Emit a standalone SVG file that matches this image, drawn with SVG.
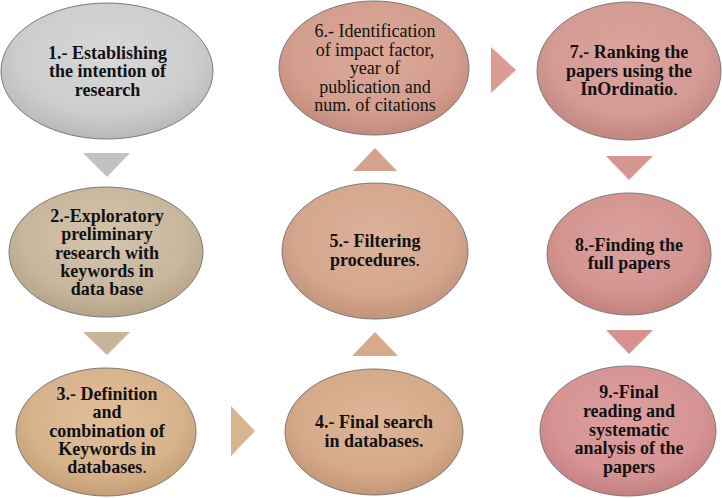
<svg xmlns="http://www.w3.org/2000/svg" width="722" height="498" viewBox="0 0 722 498">
<style>
.n{stroke:#7a7a7a;stroke-width:1}
.t{font-family:"Liberation Serif","Times New Roman",serif;font-size:18px;font-weight:bold;fill:#111;text-anchor:middle}
.r{font-weight:normal}
</style>
<defs>
<radialGradient id="g1" cx="50%" cy="40%" r="60%"><stop offset="0" stop-color="#d8d8d8"/><stop offset="0.7" stop-color="#cdcdcd"/><stop offset="1" stop-color="#b8b8b8"/></radialGradient>
<radialGradient id="g2" cx="50%" cy="40%" r="60%"><stop offset="0" stop-color="#d3c4ac"/><stop offset="0.7" stop-color="#c8b79d"/><stop offset="1" stop-color="#b6a387"/></radialGradient>
<radialGradient id="g3" cx="50%" cy="40%" r="60%"><stop offset="0" stop-color="#e0bf99"/><stop offset="0.7" stop-color="#d7b38b"/><stop offset="1" stop-color="#c59e74"/></radialGradient>
<radialGradient id="g4" cx="50%" cy="40%" r="60%"><stop offset="0" stop-color="#ddb597"/><stop offset="0.7" stop-color="#d5aa8a"/><stop offset="1" stop-color="#c39676"/></radialGradient>
<radialGradient id="g5" cx="50%" cy="40%" r="60%"><stop offset="0" stop-color="#dcb29a"/><stop offset="0.7" stop-color="#d4a78e"/><stop offset="1" stop-color="#c3937a"/></radialGradient>
<radialGradient id="g6" cx="50%" cy="40%" r="60%"><stop offset="0" stop-color="#dba999"/><stop offset="0.7" stop-color="#d49e8e"/><stop offset="1" stop-color="#c38b7b"/></radialGradient>
<radialGradient id="g7" cx="50%" cy="40%" r="60%"><stop offset="0" stop-color="#dca49e"/><stop offset="0.7" stop-color="#d49a94"/><stop offset="1" stop-color="#c28680"/></radialGradient>
<radialGradient id="g8" cx="50%" cy="40%" r="60%"><stop offset="0" stop-color="#dba09c"/><stop offset="0.7" stop-color="#d49591"/><stop offset="1" stop-color="#c2827e"/></radialGradient>
<radialGradient id="g9" cx="50%" cy="40%" r="60%"><stop offset="0" stop-color="#de9f9f"/><stop offset="0.7" stop-color="#d69494"/><stop offset="1" stop-color="#c48080"/></radialGradient>
</defs>
<rect width="722" height="498" fill="#ffffff"/>
<g id="connectors">
<polygon points="83,153 130,153 107,177" fill="#c2c2c2"/>
<polygon points="83,332 130,332 107,355" fill="#c8b69c"/>
<polygon points="231,406 231,456 255,431" fill="#d8b58e"/>
<polygon points="352,356 398,356 375,332" fill="#d6aa8b"/>
<polygon points="353,171 397,171 375,148" fill="#d5a28c"/>
<polygon points="491,47 491,93 516,70" fill="#d99e91"/>
<polygon points="606,156 653,156 629,180" fill="#d7968f"/>
<polygon points="606,330 653,330 629,354" fill="#d79191"/>
</g>
<g id="node1">
<ellipse class="n" cx="107" cy="71" rx="106" ry="68" fill="url(#g1)"/>
<text class="t" y="59"><tspan x="107.5">1.- Establishing</tspan><tspan x="107.5" dy="18.3">the intention of</tspan><tspan x="107.5" dy="18.3">research</tspan></text>
</g>
<g id="node2">
<ellipse class="n" cx="106" cy="252" rx="97" ry="65" fill="url(#g2)"/>
<text class="t" y="222"><tspan x="107">2.-Exploratory</tspan><tspan x="107" dy="18.3">preliminary</tspan><tspan x="107" dy="18.3">research with</tspan><tspan x="107" dy="18.3">keywords in</tspan><tspan x="107" dy="18.3">data base</tspan></text>
</g>
<g id="node3">
<ellipse class="n" cx="106" cy="432" rx="90" ry="64" fill="url(#g3)"/>
<text class="t" y="400"><tspan x="107">3.- Definition</tspan><tspan x="107" dy="18.3">and</tspan><tspan x="107" dy="18.3">combination of</tspan><tspan x="107" dy="18.3">Keywords in</tspan><tspan x="107" dy="18.3">databases</tspan><tspan class="r">.</tspan></text>
</g>
<g id="node4">
<ellipse class="n" cx="374" cy="432" rx="89" ry="63" fill="url(#g4)"/>
<text class="t" y="428"><tspan x="374">4.- Final search</tspan><tspan x="374" dy="19">in databases.</tspan></text>
</g>
<g id="node5">
<ellipse class="n" cx="375" cy="251" rx="93" ry="68" fill="url(#g5)"/>
<text class="t" y="247"><tspan x="375">5.- Filtering</tspan><tspan x="375" dy="19">procedures</tspan><tspan class="r">.</tspan></text>
</g>
<g id="node6">
<ellipse class="n" cx="374" cy="68" rx="95" ry="67" fill="url(#g6)"/>
<text class="t r" y="37"><tspan x="375">6.-  Identification</tspan><tspan x="375" dy="18.5">of impact factor,</tspan><tspan x="375" dy="18.5">year of</tspan><tspan x="375" dy="18.5">publication and</tspan><tspan x="375" dy="18.5">num. of citations</tspan></text>
</g>
<g id="node7">
<ellipse class="n" cx="629" cy="71" rx="92" ry="69" fill="url(#g7)"/>
<text class="t" y="58"><tspan x="629">7.- Ranking the</tspan><tspan x="629" dy="18.5">papers using the</tspan><tspan x="629" dy="18.5">InOrdinatio</tspan><tspan class="r">.</tspan></text>
</g>
<g id="node8">
<ellipse class="n" cx="629" cy="254" rx="82" ry="61" fill="url(#g8)"/>
<text class="t" y="251"><tspan x="629">8.-Finding the</tspan><tspan x="629" dy="18.3">full papers</tspan></text>
</g>
<g id="node9">
<ellipse class="n" cx="628" cy="431" rx="88" ry="65" fill="url(#g9)"/>
<text class="t" y="398"><tspan x="629">9.-Final</tspan><tspan x="629" dy="18.8">reading and</tspan><tspan x="629" dy="18.8">systematic</tspan><tspan x="629" dy="18.8">analysis of the</tspan><tspan x="629" dy="18.8">papers</tspan></text>
</g>
</svg>
